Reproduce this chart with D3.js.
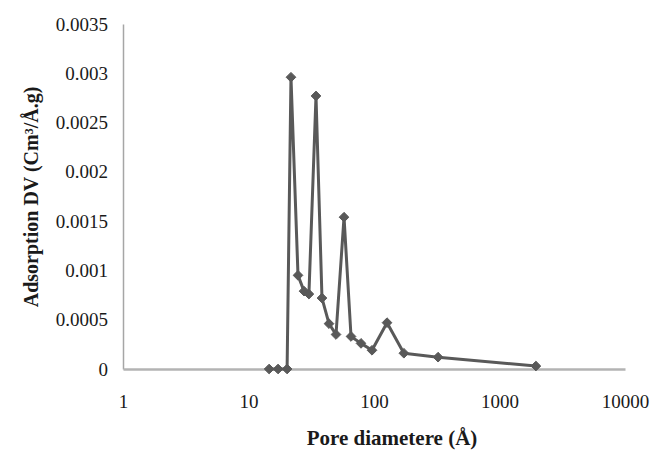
<!DOCTYPE html>
<html>
<head>
<meta charset="utf-8">
<script src="https://cdn.jsdelivr.net/npm/d3@7"></script>
<style>
  body { margin: 0; background: #fff; }
  text { font-family: "Liberation Serif", "Times New Roman", serif; fill: #1a1a1a; }
</style>
</head>
<body>
<script>
// data
var poreDiameter = [14.6, 17.2, 20.3, 21.8, 24.8, 27.7, 30.3, 34.5, 38.5, 43.8, 49.8,
                    57.7, 65.6, 78.8, 96.4, 127, 173, 324, 1950];
var adsorption = [0, 0, 0, 0.00296, 0.00095, 0.00079, 0.00076, 0.00277, 0.00072, 0.00046, 0.00035,
                  0.00154, 0.00033, 0.00026, 0.00019, 0.00047, 0.00016, 0.00012, 0.00003];
var xTicks = [1, 10, 100, 1000, 10000];
var yTicks = [0, 0.0005, 0.001, 0.0015, 0.002, 0.0025, 0.003, 0.0035];
var yTickLabels = ["0", "0.0005", "0.001", "0.0015", "0.002", "0.0025", "0.003", "0.0035"];

var width = 663, height = 450;
var margin = {top: 24, right: 38, bottom: 81, left: 123};

var svg = d3.select("body").append("svg")
  .attr("width", width)
  .attr("height", height);

// scales
var x = d3.scaleLog()
  .domain([1, 10000])
  .range([margin.left, width - margin.right]);

var y = d3.scaleLinear()
  .domain([0, 0.0035])
  .range([height - margin.bottom, margin.top]);

// y axis
var yAxis = svg.append("g")
  .attr("transform", "translate(" + margin.left + ",0)")
  .call(d3.axisLeft(y).tickValues(yTicks).tickSize(0).tickPadding(15)
    .tickFormat(function(d, i) { return yTickLabels[i]; }));
yAxis.select(".domain").attr("stroke", "#a6a6a6").attr("stroke-width", 1.5);
yAxis.selectAll("text").attr("font-size", "19px").attr("font-family", "Liberation Serif");

// x axis
var xAxis = svg.append("g")
  .attr("transform", "translate(0," + y(0) + ")")
  .call(d3.axisBottom(x).tickValues(xTicks).tickSize(0).tickPadding(26)
    .tickFormat(d3.format("d")));
xAxis.select(".domain").attr("stroke", "#b3b3b3").attr("stroke-width", 2.5);
xAxis.selectAll("text").attr("font-size", "19px").attr("font-family", "Liberation Serif");

// line
var line = d3.line()
  .x(function(d, i) { return x(poreDiameter[i]); })
  .y(function(d) { return y(d); });

svg.append("path")
  .datum(adsorption)
  .attr("d", line)
  .attr("fill", "none")
  .attr("stroke", "#595959")
  .attr("stroke-width", 3)
  .attr("stroke-linejoin", "round");

// diamond markers
svg.selectAll(".marker")
  .data(adsorption)
  .enter()
  .append("path")
  .attr("class", "marker")
  .attr("d", d3.symbol().type(d3.symbolDiamond2).size(60))
  .attr("transform", function(d, i) { return "translate(" + x(poreDiameter[i]) + "," + y(d) + ")"; })
  .attr("fill", "#595959")
  .attr("stroke", "#595959")
  .attr("stroke-width", 1);

// axis titles
svg.append("text")
  .attr("x", 392)
  .attr("y", 445)
  .attr("text-anchor", "middle")
  .attr("font-size", "21px")
  .attr("font-weight", "bold")
  .text("Pore diametere (Å)");

svg.append("text")
  .attr("transform", "translate(38,197) rotate(-90)")
  .attr("text-anchor", "middle")
  .attr("font-size", "20px")
  .attr("font-weight", "bold")
  .text("Adsorption DV (Cm³/Å.g)");
</script>
</body>
</html>
